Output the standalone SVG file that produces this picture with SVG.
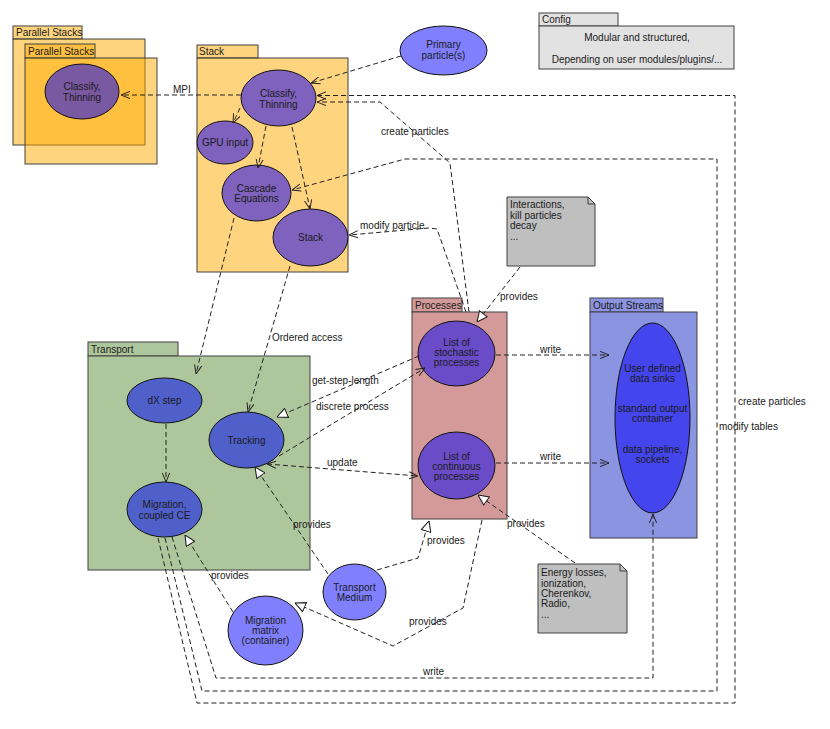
<svg xmlns="http://www.w3.org/2000/svg" width="830" height="729" viewBox="0 0 830 729">
<defs>
<style>
text{font-family:"Liberation Sans",Arial,sans-serif;font-size:10px;fill:#1a1a1a}
.c{text-anchor:middle}
.pkg{stroke:#404040;stroke-width:1}
.orange{fill:#FFAA00;fill-opacity:0.5}
.el{stroke:#111;stroke-width:1}
.e{fill:none;stroke:#222;stroke-width:1;stroke-dasharray:5,3}
.note{fill:#BFBFBF;stroke:#404040;stroke-width:1}
</style>
<marker id="open" viewBox="0 0 10 10" refX="10" refY="5" markerWidth="9" markerHeight="9" markerUnits="userSpaceOnUse" orient="auto">
<path d="M0,1 L10,5 L0,9" fill="none" stroke="#222" stroke-width="1.1"/>
</marker>
<marker id="tri" viewBox="0 0 10 10" refX="10" refY="5" markerWidth="11" markerHeight="11" markerUnits="userSpaceOnUse" orient="auto">
<path d="M0.5,0.5 L10,5 L0.5,9.5 Z" fill="#fff" stroke="#222" stroke-width="1"/>
</marker>
<marker id="openStart" viewBox="0 0 10 10" refX="0" refY="5" markerWidth="9" markerHeight="9" markerUnits="userSpaceOnUse" orient="auto">
<path d="M10,1 L0,5 L10,9" fill="none" stroke="#222" stroke-width="1.1"/>
</marker>
</defs>
<rect width="830" height="729" fill="#fff"/>

<!-- Parallel Stacks -->
<g id="parallel-stacks-outer">
<rect class="pkg orange" x="13" y="26" width="69" height="13"/>
<rect class="pkg orange" x="13" y="39" width="132" height="106"/>
<text x="16" y="36">Parallel Stacks</text>
</g>
<g id="parallel-stacks-inner">
<rect class="pkg orange" x="25" y="44" width="70" height="14"/>
<rect class="pkg orange" x="25" y="58" width="132" height="106"/>
<text x="28" y="55">Parallel Stacks</text>
</g>
<g id="parallel-classify">
<ellipse class="el" cx="82" cy="91.5" rx="37" ry="27.5" fill="#7A59A3"/>
<text class="c" x="82" y="90">Classify,</text>
<text class="c" x="82" y="100.5">Thinning</text>
</g>

<!-- Stack package -->
<g id="stack-package">
<rect class="pkg orange" x="197" y="45" width="61" height="13"/>
<rect class="pkg orange" x="197" y="58" width="151" height="214"/>
<text x="199" y="55">Stack</text>
</g>
<g id="classify">
<ellipse class="el" cx="278.5" cy="98" rx="37.5" ry="28" fill="#7E62BD"/>
<text class="c" x="278.5" y="97">Classify,</text>
<text class="c" x="278.5" y="107.5">Thinning</text>
</g>
<g id="gpu-input">
<ellipse class="el" cx="225" cy="142.5" rx="28" ry="21.5" fill="#7E62BD"/>
<text class="c" x="225" y="146">GPU input</text>
</g>
<g id="cascade">
<ellipse class="el" cx="256.5" cy="193" rx="34.5" ry="28" fill="#7E62BD"/>
<text class="c" x="256.5" y="191.5">Cascade</text>
<text class="c" x="256.5" y="202">Equations</text>
</g>
<g id="stack">
<ellipse class="el" cx="310.5" cy="237.5" rx="37.5" ry="28.5" fill="#7E62BD"/>
<text class="c" x="310.5" y="241">Stack</text>
</g>

<!-- Primary -->
<g id="primary">
<ellipse class="el" cx="443.5" cy="50.5" rx="43.5" ry="24.5" fill="#8080FF"/>
<text class="c" x="443.5" y="48">Primary</text>
<text class="c" x="443.5" y="58.5">particle(s)</text>
</g>

<!-- Config -->
<g id="config">
<rect class="pkg" x="539" y="13" width="79" height="13" fill="#E2E2E2"/>
<rect class="pkg" x="539" y="26" width="195" height="43" fill="#E2E2E2"/>
<text x="542" y="23">Config</text>
<text class="c" x="637" y="41">Modular and structured,</text>
<text class="c" x="637" y="63">Depending on user modules/plugins/...</text>
</g>

<!-- Interactions note -->
<g id="note-interactions">
<path class="note" d="M507,197 L588,197 L595,204 L595,266 L507,266 Z"/>
<path d="M588,197 L588,204 L595,204" fill="none" stroke="#404040"/>
<text x="510" y="208">Interactions,</text>
<text x="510" y="218.5">kill particles</text>
<text x="510" y="229">decay</text>
<text x="510" y="239.5">...</text>
</g>

<!-- Processes -->
<g id="processes">
<rect class="pkg" x="412" y="298" width="50" height="14" fill="#D49A9A"/>
<rect class="pkg" x="412" y="312" width="95" height="207" fill="#D49A9A"/>
<text x="415" y="309">Processes</text>
</g>
<g id="stochastic">
<ellipse class="el" cx="456.5" cy="353.5" rx="38.5" ry="32.5" fill="#6A4CC9"/>
<text class="c" x="456.5" y="346">List of</text>
<text class="c" x="456.5" y="356">stochastic</text>
<text class="c" x="456.5" y="366">processes</text>
</g>
<g id="continuous">
<ellipse class="el" cx="456.5" cy="465.5" rx="38.5" ry="33.5" fill="#6A4CC9"/>
<text class="c" x="456.5" y="460">List of</text>
<text class="c" x="456.5" y="470">continuous</text>
<text class="c" x="456.5" y="480">processes</text>
</g>

<!-- Output streams -->
<g id="output-streams">
<rect class="pkg" x="590" y="298" width="73" height="14" fill="#8A94E0"/>
<rect class="pkg" x="590" y="312" width="107" height="226" fill="#8A94E0"/>
<text x="593" y="309">Output Streams</text>
</g>
<g id="output-sinks">
<ellipse class="el" cx="652.5" cy="418" rx="37.5" ry="95" fill="#4545EE"/>
<text class="c" x="652.5" y="372">User defined</text>
<text class="c" x="652.5" y="382">data sinks</text>
<text class="c" x="652.5" y="412">standard output</text>
<text class="c" x="652.5" y="422">container</text>
<text class="c" x="652.5" y="452.5">data pipeline,</text>
<text class="c" x="652.5" y="462.5">sockets</text>
</g>

<!-- Transport -->
<g id="transport">
<rect class="pkg" x="88" y="342" width="90" height="14" fill="#ADC69B"/>
<rect class="pkg" x="88" y="356" width="222" height="214" fill="#ADC69B"/>
<text x="91" y="353">Transport</text>
</g>
<g id="dx-step">
<ellipse class="el" cx="164.5" cy="400.5" rx="37.5" ry="22.5" fill="#5060CB"/>
<text class="c" x="164.5" y="404">dX step</text>
</g>
<g id="tracking">
<ellipse class="el" cx="246.5" cy="440" rx="37.5" ry="28" fill="#5060CB"/>
<text class="c" x="246.5" y="444">Tracking</text>
</g>
<g id="migration-ce">
<ellipse class="el" cx="164.5" cy="509.5" rx="37.5" ry="27.5" fill="#5060CB"/>
<text class="c" x="164.5" y="508">Migration,</text>
<text class="c" x="164.5" y="518.5">coupled CE</text>
</g>

<g id="transport-medium">
<ellipse class="el" cx="354.5" cy="592" rx="31.5" ry="28" fill="#8080FF"/>
<text class="c" x="354.5" y="591">Transport</text>
<text class="c" x="354.5" y="601">Medium</text>
</g>
<g id="migration-matrix">
<ellipse class="el" cx="265.5" cy="630.5" rx="37.5" ry="34.5" fill="#8080FF"/>
<text class="c" x="265.5" y="624">Migration</text>
<text class="c" x="265.5" y="634">matrix</text>
<text class="c" x="265.5" y="644">(container)</text>
</g>

<!-- Energy losses note -->
<g id="note-energy">
<path class="note" d="M538,564 L620,564 L627,571 L627,633 L538,633 Z"/>
<path d="M620,564 L620,571 L627,571" fill="none" stroke="#404040"/>
<text x="541" y="576">Energy losses,</text>
<text x="541" y="586.5">ionization,</text>
<text x="541" y="597">Cherenkov,</text>
<text x="541" y="607">Radio,</text>
<text x="541" y="617.5">...</text>
</g>

<!-- Connectors -->
<g id="connectors">
<path class="e" d="M241,95 L121,95" marker-end="url(#open)"/>
<path class="e" d="M401,56 L311,83" marker-end="url(#open)"/>
<path class="e" d="M158,538 L197,703 L735,703 L735,95.5 L317,95.5" marker-end="url(#open)"/>
<path class="e" d="M165,538 L202,691 L717,691 L717,159 L405,159 L292,190" marker-end="url(#open)"/>
<path class="e" d="M172,537 L216,678 L653,678 L653,514" marker-end="url(#open)"/>
<path class="e" d="M469,312 L450,163 L380,102 L317,102" marker-end="url(#open)"/>
<path class="e" d="M466,312 L437,229 L429,228 L349,235" marker-end="url(#open)"/>
<path class="e" d="M520,267 L477,322" marker-end="url(#tri)"/>
<path class="e" d="M240,108 L233,123" marker-end="url(#open)"/>
<path class="e" d="M266,126 L258,168" marker-end="url(#open)"/>
<path class="e" d="M292,127 L310,209" marker-end="url(#open)"/>
<path class="e" d="M234,218 L196,374" marker-end="url(#open)"/>
<path class="e" d="M290,266 L248,412" marker-end="url(#open)"/>
<path class="e" d="M166,424 L166,482" marker-end="url(#open)"/>
<path class="e" d="M419,356 L277,417" marker-end="url(#tri)"/>
<path class="e" d="M279,456 L425,368" marker-end="url(#open)"/>
<path class="e" d="M267,464 L418,476" marker-start="url(#openStart)" marker-end="url(#open)"/>
<path class="e" d="M496,355 L609,355" marker-end="url(#open)"/>
<path class="e" d="M496,463 L609,463" marker-end="url(#open)"/>
<path class="e" d="M328,574 L255,467" marker-end="url(#tri)"/>
<path class="e" d="M377,570 L418,558 L429,521" marker-end="url(#tri)"/>
<path class="e" d="M233,612 L185,535" marker-end="url(#tri)"/>
<path class="e" d="M482,520 L463,608 L393,646 L295,603" marker-end="url(#tri)"/>
<path class="e" d="M575,563 L478,495" marker-end="url(#tri)"/>

<text x="173" y="93">MPI</text>
<text x="381" y="134.5">create particles</text>
<text x="360" y="229">modify particle</text>
<text x="500" y="300">provides</text>
<text x="540" y="353">write</text>
<text x="540" y="460">write</text>
<text x="507" y="527">provides</text>
<text x="272" y="341">Ordered access</text>
<text x="312" y="384">get-step-length</text>
<text x="316" y="410">discrete process</text>
<text x="327" y="466">update</text>
<text x="293" y="528">provides</text>
<text x="211" y="579">provides</text>
<text x="427" y="544">provides</text>
<text x="409" y="625">provides</text>
<text x="423" y="675">write</text>
<text x="738" y="405">create particles</text>
<text x="719" y="430">modify tables</text>
</g>
</svg>
